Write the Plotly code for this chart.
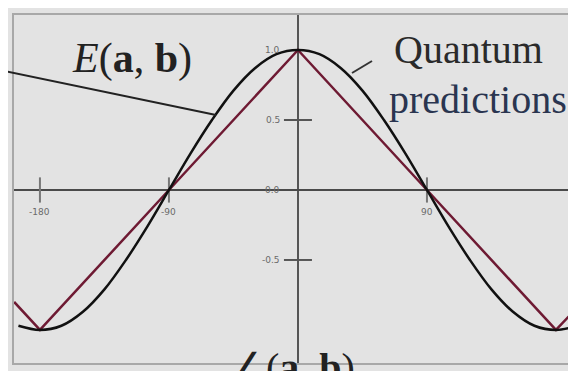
import plotly.graph_objects as go

# ---- data ----
angles_quantum = [-195, -180, -165, -150, -135, -120, -105, -90, -75, -60, -45, -30, -15,
                  0, 15, 30, 45, 60, 75, 90, 105, 120, 135, 150, 165, 180, 195]
E_quantum = [-0.97, -1.0, -0.97, -0.87, -0.71, -0.5, -0.26, 0.0, 0.26, 0.5, 0.71, 0.87, 0.97,
             1.0, 0.97, 0.87, 0.71, 0.5, 0.26, 0.0, -0.26, -0.5, -0.71, -0.87, -0.97, -1.0, -0.97]

angles_classical = [-198, -180, -90, 0, 90, 180, 192]
E_classical = [-0.8, -1.0, 0.0, 1.0, 0.0, -1.0, -0.87]

ytick_vals = [1.0, 0.5, 0.0, -0.5]
ytick_text = ["1.0", "0.5", "0.0", "-0.5"]
ytick_marks = [0.5, -0.5]
xtick_vals = [-180, -90, 90]
xtick_text = ["-180", "-90", "90"]

BG = "#e3e3e3"
SERIF = "Liberation Serif"

fig = go.Figure()

# tick marks on the central axes
fig.add_trace(go.Scatter(x=[0] * len(ytick_marks), y=ytick_marks, mode="markers",
                         marker=dict(symbol="line-ew", size=20, line=dict(color="#555", width=2)),
                         hoverinfo="skip", showlegend=False))
fig.add_trace(go.Scatter(x=xtick_vals, y=[0] * len(xtick_vals), mode="markers",
                         marker=dict(symbol="line-ns", size=18, line=dict(color="#777", width=2)),
                         hoverinfo="skip", showlegend=False))

# classical (linear) prediction
fig.add_trace(go.Scatter(x=angles_classical, y=E_classical, mode="lines",
                         line=dict(color="#6e1a33", width=2.5), showlegend=False))
# quantum prediction
fig.add_trace(go.Scatter(x=angles_quantum, y=E_quantum, mode="lines",
                         line=dict(color="#111111", width=2.5, shape="spline", smoothing=1),
                         showlegend=False))

annotations = []
for v, t in zip(ytick_vals, ytick_text):
    annotations.append(dict(x=-11, y=v, xref="x", yref="y", text=t, showarrow=False,
                            xanchor="right", yanchor="middle",
                            font=dict(family="DejaVu Sans", size=9, color="#6a6a6a")))
for v, t in zip(xtick_vals, xtick_text):
    annotations.append(dict(x=v, y=-0.16, xref="x", yref="y", text=t, showarrow=False,
                            xanchor="center", yanchor="middle",
                            font=dict(family="DejaVu Sans", size=9, color="#6a6a6a")))

def px(xp):
    return (xp - 14) / 558.0

def py(yp):
    return (363 - yp) / 348.0

annotations += [
    dict(x=px(132), y=py(58), xref="paper", yref="paper",
         text="<i>E</i>(<b>a</b>, <b>b</b>)", showarrow=False, xanchor="center", yanchor="middle",
         font=dict(family=SERIF, size=42, color="#222")),
    dict(x=px(392), y=py(50), xref="paper", yref="paper", text="Quantum", showarrow=False,
         xanchor="left", yanchor="middle", font=dict(family=SERIF, size=40, color="#2a2a2a")),
    dict(x=px(387), y=py(99), xref="paper", yref="paper", text="predictions", showarrow=False,
         xanchor="left", yanchor="middle", font=dict(family=SERIF, size=40, color="#2a3550")),
    dict(x=px(357), y=py(343), xref="paper", yref="paper",
         text="∠(<b>a</b>, <b>b</b>)", showarrow=False, xanchor="right", yanchor="top",
         font=dict(family=SERIF, size=40, color="#222")),
]

shapes = [
    dict(type="line", xref="paper", yref="paper", x0=px(0), y0=py(70), x1=px(216), y1=py(115),
         line=dict(color="#222", width=2)),
    dict(type="line", xref="paper", yref="paper", x0=px(352), y0=py(73), x1=px(372), y1=py(61),
         line=dict(color="#333", width=2)),
]

# the page body adds an 8px offset, so the margins are shifted to compensate
fig.update_layout(
    width=576, height=371,
    margin=dict(l=6, r=12, t=7, b=16, autoexpand=False),
    paper_bgcolor=BG, plot_bgcolor=BG,
    annotations=annotations, shapes=shapes,
    xaxis=dict(range=[-198.1, 191.2], showgrid=False, showticklabels=False, ticks="",
               showline=True, mirror=True, linecolor="#a8a8a8", linewidth=2,
               zeroline=True, zerolinecolor="#555", zerolinewidth=1.5),
    yaxis=dict(range=[-1.236, 1.25], showgrid=False, showticklabels=False, ticks="",
               showline=True, mirror=True, linecolor="#a8a8a8", linewidth=2,
               zeroline=True, zerolinecolor="#4a4a4a", zerolinewidth=2),
)

fig.write_html("out.html")
